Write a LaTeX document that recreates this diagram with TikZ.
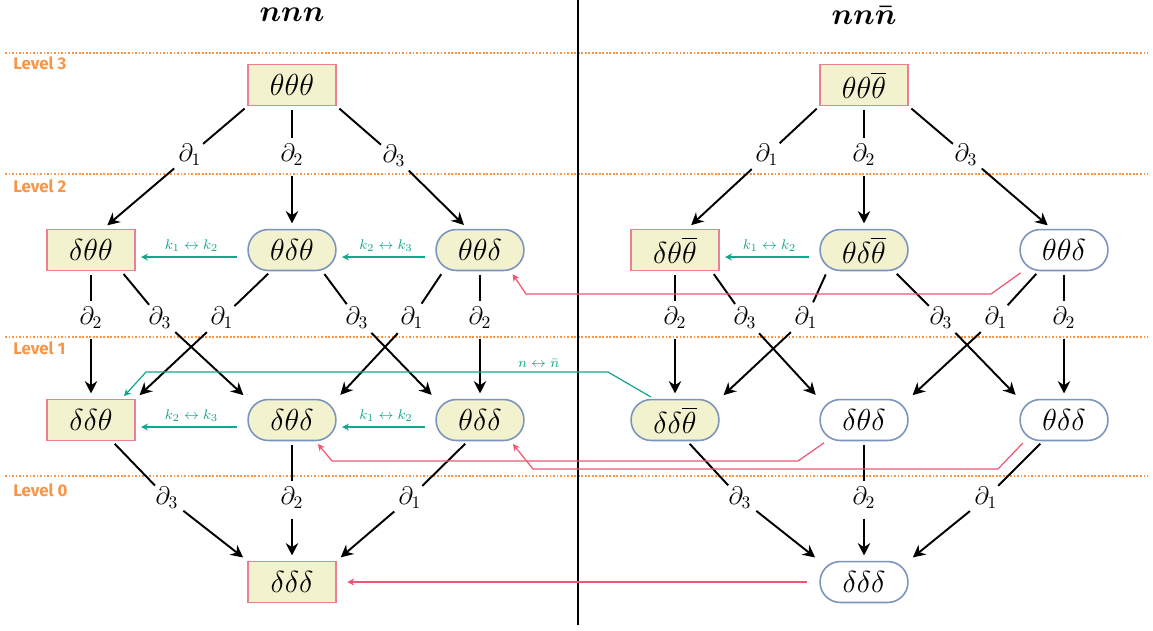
\documentclass[tikz,border=0pt]{standalone}
\usepackage{amssymb}
\usepackage{amsmath}
\usepackage{fontspec}
\usepackage{tikz}
\usetikzlibrary{arrows.meta}
\newfontfamily\levelfont{Fira Sans}
\definecolor{boxfill}{RGB}{243,242,206}
\definecolor{boxpink}{RGB}{236,128,146}
\definecolor{pillblue}{RGB}{122,148,190}
\definecolor{swapteal}{RGB}{22,166,142}
\definecolor{flippink}{RGB}{240,86,116}
\definecolor{levelorange}{RGB}{247,150,72}
\tikzset{
  sq/.style={draw=boxpink, fill=boxfill, line width=0.9pt, minimum width=50pt, minimum height=23.3pt, inner sep=1pt, font=\LARGE},
  pill/.style={sq, draw=pillblue, rounded corners=11.5pt},
  wpill/.style={pill, fill=white},
  dlbl/.style={circle, inner sep=0.5pt, font=\Large},
  dline/.style={line width=1.1pt, shorten <=2pt},
  arr/.style={dline, -{Stealth[length=7pt,width=7pt]}, shorten >=3pt},
  swaparr/.style={swapteal, line width=0.7pt, -{Stealth[length=4pt,width=4pt]}},
  swaplbl/.style={swapteal, font=\footnotesize, inner sep=1pt},
  fliparr/.style={flippink, line width=0.7pt, -{Stealth[length=4pt,width=4pt]}, shorten <=1.5pt, shorten >=2pt},
  levelline/.style={levelorange, line width=0.7pt, dash pattern=on 1pt off 1pt},
  levellbl/.style={levelorange, font=\levelfont\bfseries\fontsize{9.6}{11}\selectfont, anchor=west, inner sep=0pt},
}
\begin{document}
\begin{tikzpicture}[x=0.02cm,y=-0.02cm]
\useasboundingbox (0,0) rectangle (1153,630);
% levels
\draw[levelline] (5,53) -- (1148,53);
\draw[levelline] (5,174) -- (1148,174);
\draw[levelline] (5,337) -- (1148,337);
\draw[levelline] (5,476) -- (1148,476);
\node[levellbl] (lv3) at (13,63) {Level 3};
\node[levellbl] (lv2) at (13,186) {Level 2};
\node[levellbl] (lv1) at (13,348) {Level 1};
\node[levellbl] (lv0) at (13,490) {Level 0};
% titles and divider
\node[font=\LARGE] (ltitle) at (292,15) {$\boldsymbol{nnn}$};
\node[font=\LARGE] (rtitle) at (864,15) {$\boldsymbol{nn\bar{n}}$};
\coordinate (dtop) at (578,0);
\coordinate (dbot) at (578,625);
\draw[line width=1.1pt] (dtop) -- (dbot);
% left nodes
\node[sq] (ttt) at (292,85) {$\theta\theta\theta$};
\node[sq] (dtt) at (91,250) {$\delta\theta\theta$};
\node[pill] (tdt) at (292,250) {$\theta\delta\theta$};
\node[pill] (ttd) at (480,250) {$\theta\theta\delta$};
\node[sq] (ddt) at (91,420) {$\delta\delta\theta$};
\node[pill] (dtd) at (292,420) {$\delta\theta\delta$};
\node[pill] (tdd) at (480,420) {$\theta\delta\delta$};
\node[sq] (ddd) at (292,582) {$\delta\delta\delta$};
% right nodes
\node[sq] (tttb) at (864,85) {$\theta\theta\overline{\theta}$};
\node[sq] (dttb) at (675,250) {$\delta\theta\overline{\theta}$};
\node[pill] (tdtb) at (864,250) {$\theta\delta\overline{\theta}$};
\node[wpill] (ttdb) at (1064,250) {$\theta\theta\delta$};
\node[pill] (ddtb) at (675,420) {$\delta\delta\overline{\theta}$};
\node[wpill] (dtdb) at (864,420) {$\delta\theta\delta$};
\node[wpill] (tddb) at (1064,420) {$\theta\delta\delta$};
\node[wpill] (dddb) at (864,582) {$\delta\delta\delta$};
% left labels
\node[dlbl] (a1) at (190,155) {$\partial_1$};
\node[dlbl] (a2) at (292,155) {$\partial_2$};
\node[dlbl] (a3) at (394,156) {$\partial_3$};
\node[dlbl] (b1) at (91,318) {$\partial_2$};
\node[dlbl] (b2) at (160,318) {$\partial_3$};
\node[dlbl] (b3) at (222,318) {$\partial_1$};
\node[dlbl] (b4) at (357,318) {$\partial_3$};
\node[dlbl] (b5) at (412,318) {$\partial_1$};
\node[dlbl] (b6) at (480,318) {$\partial_2$};
\node[dlbl] (c1) at (167,498) {$\partial_3$};
\node[dlbl] (c2) at (292,498) {$\partial_2$};
\node[dlbl] (c3) at (410,498) {$\partial_1$};
% right labels
\node[dlbl] (a1b) at (767,155) {$\partial_1$};
\node[dlbl] (a2b) at (864,155) {$\partial_2$};
\node[dlbl] (a3b) at (966,155) {$\partial_3$};
\node[dlbl] (b1b) at (675,318) {$\partial_2$};
\node[dlbl] (b2b) at (745,318) {$\partial_3$};
\node[dlbl] (b3b) at (806,318) {$\partial_1$};
\node[dlbl] (b4b) at (941,318) {$\partial_3$};
\node[dlbl] (b5b) at (996,318) {$\partial_1$};
\node[dlbl] (b6b) at (1064,318) {$\partial_2$};
\node[dlbl] (c1b) at (740,498) {$\partial_3$};
\node[dlbl] (c2b) at (864,498) {$\partial_2$};
\node[dlbl] (c3b) at (986,498) {$\partial_1$};
% left edges
\draw[dline] (ttt.south west) -- (a1); \draw[arr] (a1) -- (dtt.60);
\draw[dline] (ttt.south) -- (a2); \draw[arr] (a2) -- (tdt.north);
\draw[dline] (ttt.south east) -- (a3); \draw[arr] (a3) -- (ttd.120);
\draw[dline] (dtt.south) -- (b1); \draw[arr] (b1) -- (ddt.north);
\draw[dline] (dtt.-35) -- (b2); \draw[arr] (b2) -- (dtd.north west);
\draw[dline] (tdt.-135) -- (b3); \draw[arr] (b3) -- (ddt.north east);
\draw[dline] (tdt.-35) -- (b4); \draw[arr] (b4) -- (tdd.north west);
\draw[dline] (ttd.-150) -- (b5); \draw[arr] (b5) -- (dtd.north east);
\draw[dline] (ttd.south) -- (b6); \draw[arr] (b6) -- (tdd.north);
\draw[dline] (ddt.-45) -- (c1); \draw[arr] (c1) -- (ddd.north west);
\draw[dline] (dtd.south) -- (c2); \draw[arr] (c2) -- (ddd.north);
\draw[dline] (tdd.-120) -- (c3); \draw[arr] (c3) -- (ddd.north east);
% right edges
\draw[dline] (tttb.south west) -- (a1b); \draw[arr] (a1b) -- (dttb.60);
\draw[dline] (tttb.south) -- (a2b); \draw[arr] (a2b) -- (tdtb.north);
\draw[dline] (tttb.south east) -- (a3b); \draw[arr] (a3b) -- (ttdb.120);
\draw[dline] (dttb.south) -- (b1b); \draw[arr] (b1b) -- (ddtb.north);
\draw[dline] (dttb.-30) -- (b2b); \draw[arr] (b2b) -- (dtdb.north west);
\draw[dline] (tdtb.-150) -- (b3b); \draw[arr] (b3b) -- (ddtb.north east);
\draw[dline] (tdtb.-35) -- (b4b); \draw[arr] (b4b) -- (tddb.north west);
\draw[dline] (ttdb.-140) -- (b5b); \draw[arr] (b5b) -- (dtdb.north east);
\draw[dline] (ttdb.south) -- (b6b); \draw[arr] (b6b) -- (tddb.north);
\draw[dline] (ddtb.-60) -- (c1b); \draw[arr] (c1b) -- (dddb.north west);
\draw[dline] (dtdb.south) -- (c2b); \draw[arr] (c2b) -- (dddb.north);
\draw[dline] (tddb.-135) -- (c3b); \draw[arr] (c3b) -- (dddb.north east);
% swaps k
\draw[swaparr, shorten <=6pt, shorten >=3pt] ([yshift=-4pt]tdt.west) -- node[swaplbl, above=2pt] (s1) {$k_1\leftrightarrow k_2$} ([yshift=-4pt]dtt.east);
\draw[swaparr, shorten <=6pt, shorten >=3pt] ([yshift=-4pt]ttd.west) -- node[swaplbl, above=2pt] (s2) {$k_2\leftrightarrow k_3$} ([yshift=-4pt]tdt.east);
\draw[swaparr, shorten <=6pt, shorten >=3pt] ([yshift=-4pt]tdtb.west) -- node[swaplbl, above=2pt] (s3) {$k_1\leftrightarrow k_2$} ([yshift=-4pt]dttb.east);
\draw[swaparr, shorten <=6pt, shorten >=3pt] ([yshift=-4pt]dtd.west) -- node[swaplbl, above=2pt] (s4) {$k_2\leftrightarrow k_3$} ([yshift=-4pt]ddt.east);
\draw[swaparr, shorten <=6pt, shorten >=3pt] ([yshift=-4pt]tdd.west) -- node[swaplbl, above=2pt] (s5) {$k_1\leftrightarrow k_2$} ([yshift=-4pt]dtd.east);
% swap n
\coordinate (nn1) at (608,372);
\coordinate (nn2) at (146,372);
\draw[swaparr, shorten <=2pt, shorten >=2pt] ([xshift=-12pt]ddtb.north) -- (nn1) -- node[swaplbl, above=1pt, pos=0.15] (s6) {$n\leftrightarrow\bar{n}$} (nn2) -- ([xshift=-8pt]ddt.north east);
% flips
\coordinate (p1a) at (991,294);
\coordinate (p1b) at (526,294);
\draw[fliparr] ([xshift=2pt]ttdb.south west) -- (p1a) -- (p1b) -- ([xshift=-8pt]ttd.south east);
\coordinate (p2a) at (798,461);
\coordinate (p2b) at (332,461);
\draw[fliparr] ([xshift=4pt]dtdb.south west) -- (p2a) -- (p2b) -- ([xshift=-12pt]dtd.south east);
\coordinate (p3a) at (998,469);
\coordinate (p3b) at (533,469);
\draw[fliparr] ([xshift=3pt]tddb.south west) -- (p3a) -- (p3b) -- ([xshift=-8pt]tdd.south east);
\draw[fliparr, shorten <=7pt, shorten >=6pt] (dddb.west) -- (ddd.east);
\end{tikzpicture}
\end{document}
